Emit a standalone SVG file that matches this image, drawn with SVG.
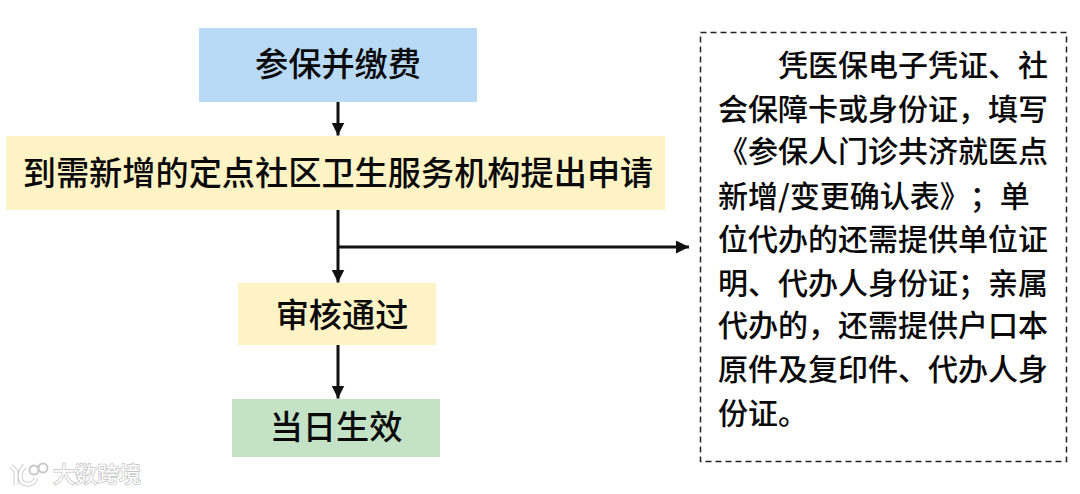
<svg xmlns="http://www.w3.org/2000/svg" width="1080" height="494" viewBox="0 0 1080 494">
<style>
.t{font-family:"Noto Sans CJK SC","Liberation Sans",sans-serif;fill:#0a0a0a;font-weight:500;text-spacing-trim:space-all}
.n{font-size:33.200px;text-anchor:middle}
.b{font-size:30px}
.c{stroke:#111;stroke-width:3;fill:none}
.w{font-family:"Noto Sans CJK SC",sans-serif;font-size:22px;fill:#fff;stroke:#c4c4c4;stroke-width:1.500;paint-order:stroke}
</style>
<defs>
<marker id="a" markerUnits="userSpaceOnUse" markerWidth="14" markerHeight="13" refX="13" refY="6.500" orient="auto"><path d="M0 0L13 6.500L0 13Z" fill="#111"/></marker>
</defs>
<rect width="1080" height="494" fill="#fff"/>
<g id="connectors">
<path class="c" d="M338 102V135.500" marker-end="url(#a)"/>
<path class="c" d="M338 210V282.500" marker-end="url(#a)"/>
<path class="c" d="M339 247H689" marker-end="url(#a)"/>
<path class="c" d="M338 345V398.500" marker-end="url(#a)"/>
</g>
<g id="node-1"><rect x="199" y="28" width="278" height="74" fill="#b9daf6"/><text class="t n" x="338" y="76">参保并缴费</text></g>
<g id="node-2"><rect x="6" y="136" width="659" height="74" fill="#fdf3c5"/><text class="t n" x="338" y="185">到需新增的定点社区卫生服务机构提出申请</text></g>
<g id="node-3"><rect x="238" y="283" width="198" height="62" fill="#fdf3c5"/><text class="t n" x="342" y="327">审核通过</text></g>
<g id="node-4"><rect x="232" y="399" width="208" height="58" fill="#c3e2c6"/><text class="t n" x="336" y="439">当日生效</text></g>
<g id="node-5">
<rect x="700.500" y="32.500" width="366" height="429" fill="#fff" stroke="#222" stroke-width="1.500" stroke-dasharray="6 4"/>
<text class="t b" x="778" y="76">凭医保电子凭证、社</text>
<text class="t b" x="718" y="120">会保障卡或身份证，填写</text>
<text class="t b" x="718" y="162">《参保人门诊共济就医点</text>
<text class="t b" x="718" y="207">新增/变更确认表》；单</text>
<text class="t b" x="718" y="250">位代办的还需提供单位证</text>
<text class="t b" x="718" y="294">明、代办人身份证；亲属</text>
<text class="t b" x="718" y="336">代办的，还需提供户口本</text>
<text class="t b" x="718" y="380">原件及复印件、代办人身</text>
<text class="t b" x="718" y="424">份证。</text>
</g>
<g id="watermark" fill="none">
<path d="M11 466L16 471V485M25 466C18 472 19 483 26 484C31 485 35 482 36 478" stroke="#cfcfcf" stroke-width="5"/>
<path d="M11 466L16 471V485M25 466C18 472 19 483 26 484C31 485 35 482 36 478" stroke="#fff" stroke-width="3"/>
<circle cx="34" cy="470" r="4.500" stroke="#c8c8c8" stroke-width="2" fill="#fff"/>
<circle cx="43" cy="468" r="4.500" stroke="#c8c8c8" stroke-width="2" fill="#fff"/>
<text class="w" x="53" y="482">大数跨境</text>
</g>
</svg>
